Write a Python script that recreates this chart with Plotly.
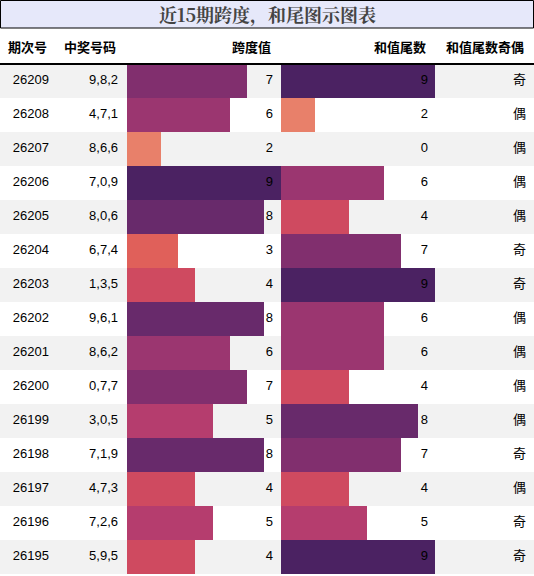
import plotly.graph_objects as go

periods = ['26209', '26208', '26207', '26206', '26205', '26204', '26203', '26202',
           '26201', '26200', '26199', '26198', '26197', '26196', '26195']
numbers = ['9,8,2', '4,7,1', '8,6,6', '7,0,9', '8,0,6', '6,7,4', '1,3,5', '9,6,1',
           '8,6,2', '0,7,7', '3,0,5', '7,1,9', '4,7,3', '7,2,6', '5,9,5']
span = [7, 6, 2, 9, 8, 3, 4, 8, 6, 7, 5, 8, 4, 5, 4]
tail = [9, 2, 0, 6, 4, 7, 9, 6, 6, 4, 8, 7, 4, 5, 9]
parity = ['奇', '偶', '偶', '偶', '偶', '奇', '奇', '偶', '偶', '偶', '偶', '奇', '偶', '奇', '奇']
headers = ['期次号', '中奖号码', '跨度值', '和值尾数', '和值尾数奇偶']

palette = {0: '#ffffff', 2: '#E8806A', 3: '#E0605A', 4: '#CF4A60', 5: '#B53D6E',
           6: '#9B3670', 7: '#812F6E', 8: '#682A6B', 9: '#4B2262'}

W, H = 534, 576
top, row_h = 64, 34
unit = 154 / 9
col3, col4 = 127, 281
yc = [top + row_h * i + row_h / 2 for i in range(len(periods))]

fig = go.Figure()

shapes = []
for i in range(len(periods)):
    if i % 2 == 0:
        shapes.append(dict(type='rect', xref='x', yref='y', x0=0, x1=W, y0=top + row_h * i,
                           y1=top + row_h * (i + 1), fillcolor='#f2f2f2', line_width=0, layer='below'))
shapes.append(dict(type='rect', xref='x', yref='y', x0=0.5, x1=W - 0.5, y0=0.5, y1=28,
                   fillcolor='#e6e8fa', line=dict(color='black', width=1)))
shapes.append(dict(type='line', xref='x', yref='y', x0=0, x1=W, y0=top, y1=top,
                   line=dict(color='black', width=2)))

fig.add_trace(go.Bar(y=yc, x=[v * unit for v in span], base=col3, orientation='h', width=row_h,
                     marker=dict(color=[palette[v] for v in span], line_width=0), hoverinfo='skip'))
fig.add_trace(go.Bar(y=yc, x=[v * unit for v in tail], base=col4, orientation='h', width=row_h,
                     marker=dict(color=[palette[v] for v in tail], line_width=0), hoverinfo='skip'))

font = dict(family='Liberation Sans, Noto Sans CJK SC', size=13, color='black')
cols = [(49, periods), (118, numbers), (273, [str(v) for v in span]),
        (428, [str(v) for v in tail]), (526, parity)]
for x, vals in cols:
    fig.add_trace(go.Scatter(x=[x] * len(vals), y=yc, text=vals, mode='text',
                             textposition='middle left', textfont=font, hoverinfo='skip'))

hx = [49, 118, 273, 428, 526]
for x, h in zip(hx, headers):
    fig.add_annotation(x=x, y=46, text='<b>' + h + '</b>', showarrow=False, xanchor='right',
                       font=dict(family='Noto Sans CJK SC', size=13, color='black'))
fig.add_annotation(x=W / 2, y=14, text='<b>近15期跨度，和尾图示图表</b>', showarrow=False,
                   font=dict(family='Noto Serif CJK SC, Noto Sans CJK SC', size=18, color='#444444'))

fig.update_layout(width=W, height=H, margin=dict(l=0, r=0, t=0, b=0), showlegend=False,
                  plot_bgcolor='white', paper_bgcolor='white', shapes=shapes, bargap=0,
                  barmode='overlay',
                  xaxis=dict(range=[0, W], visible=False, fixedrange=True),
                  yaxis=dict(range=[H, 0], visible=False, fixedrange=True))
fig.write_html('out.html', config={'displayModeBar': False},
               post_script="document.body.style.margin='0';document.body.style.overflow='hidden';")
